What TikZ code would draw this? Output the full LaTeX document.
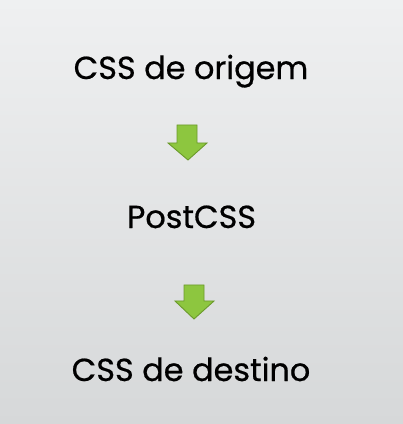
\documentclass[tikz,border=0pt]{standalone}
\usepackage{fontspec}
\setmainfont{Poppins}[FakeBold=0.6]
\definecolor{bgtop}{HTML}{EFF0F1}
\definecolor{bgbot}{HTML}{D6D8D9}
\definecolor{arrowfill}{HTML}{8DC63F}
\definecolor{arrowline}{HTML}{6B9A2C}
\tikzset{
  label/.style={inner sep=0pt, anchor=base, font=\fontsize{32}{36}\selectfont, text=black},
  downarrow/.style={fill=arrowfill, draw=arrowline, line width=0.9bp, line join=miter},
}
\begin{document}
\begin{tikzpicture}[x=1bp,y=1bp]
\shade[top color=bgtop, bottom color=bgbot] (0,0) rectangle (403,424);
\useasboundingbox (0,0) rectangle (403,424);
\node[label] (src) at (191,424-79) {CSS de origem};
\node[label] (post) at (191.5,424-228) {PostCSS};
\node[label] (dst) at (191,424-381) {CSS de destino};
% arrow 1
\draw[downarrow] (177,424-125) -- (197,424-125) -- (197,424-143) -- (207,424-143) -- (188,424-160) -- (168,424-143) -- (177,424-143) -- cycle;
% arrow 2
\draw[downarrow] (184,424-285) -- (204,424-285) -- (204,424-301) -- (214,424-301) -- (194,424-319) -- (175,424-301) -- (184,424-301) -- cycle;
\end{tikzpicture}
\end{document}
